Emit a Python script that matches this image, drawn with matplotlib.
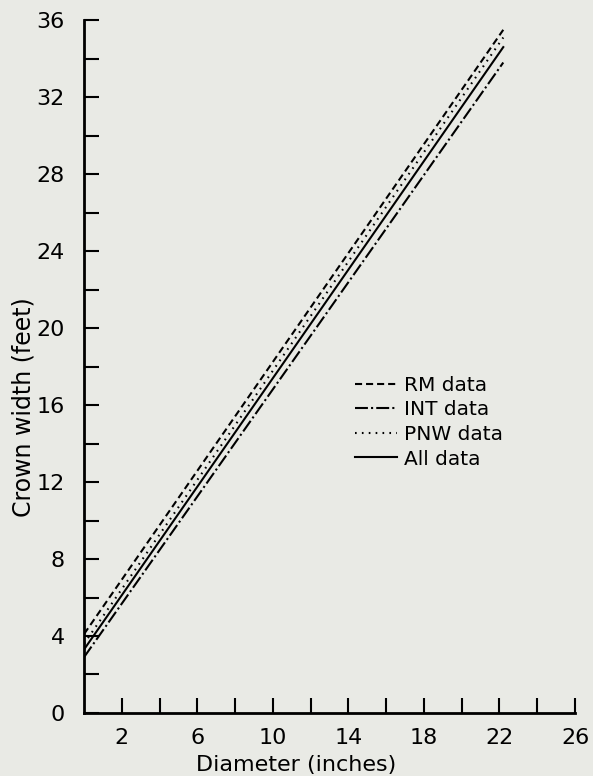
import matplotlib.pyplot as plt
import numpy as np

# Crown width regressions, drawn between the smallest and largest diameter
diameter = [0.0, 22.2]
rm_width = [4.1, 35.5]
int_width = [2.9, 33.8]
pnw_width = [3.6, 35.1]
all_width = [3.3, 34.6]

series_names = ['RM data', 'INT data', 'PNW data', 'All data']
x_labels = ['2', '6', '10', '14', '18', '22', '26']
y_labels = ['0', '4', '8', '12', '16', '20', '24', '28', '32', '36']

bg = '#e9eae5'
plt.rcParams['font.family'] = ['DejaVu Sans']

fig = plt.figure(figsize=(5.93, 7.76), dpi=100, facecolor=bg)
ax = fig.add_axes([0.1417, 0.0812, 0.828, 0.8928], facecolor=bg)

styles = [(0, (3.4, 1.9)), (0, (6.2, 1.5, 1, 1.5)), (0, (0.8, 2.5)), '-']
for y, name, ls in zip([rm_width, int_width, pnw_width, all_width], series_names, styles):
    ax.plot(diameter, y, color='black', lw=1.5, ls=ls, label=name)

ax.set_xlim(0, 26)
ax.set_ylim(0, 36)
for side in ['top', 'right']:
    ax.spines[side].set_visible(False)
for side in ['left', 'bottom']:
    ax.spines[side].set_linewidth(2)

ax.set_xticks(np.arange(2, 27, 4))
ax.set_xticklabels(x_labels)
ax.set_xticks(np.arange(4, 27, 4), minor=True)
ax.set_yticks(np.arange(0, 37, 4))
ax.set_yticklabels(y_labels)
ax.set_yticks(np.arange(2, 36, 4), minor=True)
ax.tick_params(which='both', direction='in', width=1.5, length=11, labelsize=16)
ax.tick_params(axis='x', which='major', pad=11)
ax.tick_params(axis='y', which='major', pad=14)

ax.set_xlabel('Diameter (inches)', fontsize=16, va='center')
ax.xaxis.set_label_coords(0.432, -0.075)
ax.set_ylabel('Crown width (feet)', fontsize=17, va='center')
ax.yaxis.set_label_coords(-0.124, 0.4416)

ax.legend(loc='upper left', bbox_to_anchor=(0.552, 0.487), frameon=False,
          borderpad=0, borderaxespad=0, fontsize=14.5, handlelength=2.1,
          handletextpad=0.35, labelspacing=0.28)

fig.savefig('out.png', dpi=100, facecolor=bg)
